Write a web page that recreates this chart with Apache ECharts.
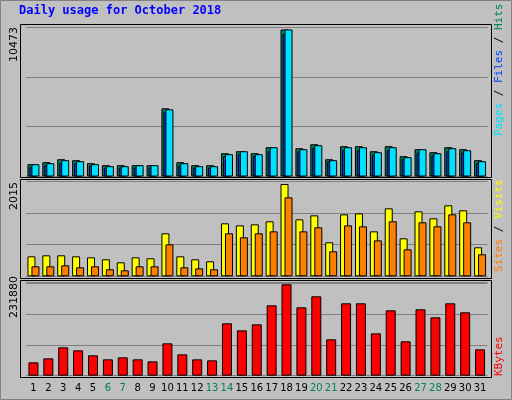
<!DOCTYPE html><html><head><meta charset="utf-8">
<script src="https://cdn.jsdelivr.net/npm/echarts@6/dist/echarts.min.js"></script>
<style>body{margin:0;background:#c0c0c0}#c{width:512px;height:400px}</style></head><body><div id="c"></div>
<script>
const days = ['1','2','3','4','5','6','7','8','9','10','11','12','13','14','15','16','17','18','19','20','21','22','23','24','25','26','27','28','29','30','31'];
const weekend = ['6','7','13','14','20','21','27','28'];
const hits = [877,1019,1232,1161,948,806,806,806,806,4858,1019,806,806,1659,1801,1659,2086,10473,2014,2299,1232,2157,2157,1801,2157,1446,1943,1730,2086,1943,1161];
const files = [660,800,960,950,760,640,640,640,640,4620,800,640,640,1450,1600,1450,1800,10130,1800,2050,1080,1880,1880,1560,1880,1250,1700,1500,1800,1700,950];
const pages = [877,948,1161,1090,877,735,735,806,806,4787,948,735,735,1588,1801,1588,2086,10473,1943,2228,1161,2086,2086,1730,2086,1375,1943,1659,2014,1872,1090];
const visits = [436,458,458,436,414,371,305,414,393,938,436,371,327,1156,1112,1134,1200,2015,1243,1330,742,1352,1374,981,1483,829,1418,1265,1549,1440,633];
const sites = [218,218,240,196,218,153,131,218,218,698,196,174,153,938,851,938,981,1723,981,1069,545,1112,1091,785,1200,589,1178,1091,1352,1178,480];
const kbytes = [33852,44008,71936,64319,51624,41469,46547,41469,36391,82091,54163,41469,38930,132870,115097,130330,178570,231880,173492,201419,92247,183647,183647,107480,165875,87169,168414,148103,183647,160797,66858];
const maxLabels = ['10473','2015','231880'];

const ch = echarts.init(document.getElementById('c'));
const grids = [{top:27,height:149.5},{top:181,height:95.3},{top:282,height:93.7}];
const ymax=[10651,2080,237700], yint=[3550,690,78000];
const bs = {borderColor:'#000',borderWidth:1};
const mono = '11px "DejaVu Sans Mono"';
ch.setOption({
 animation:false, backgroundColor:'#c0c0c0',
 grid: grids.map(g=>({left:26,width:461.5,top:g.top,height:g.height})),
 xAxis:[0,1,2].map(i=>({type:'category',gridIndex:i,data:days,axisLine:{show:false},axisTick:{show:false},
   axisLabel:{show:i===2,interval:0,margin:8,fontSize:10,fontFamily:'DejaVu Sans',color:v=>weekend.includes(v)?'#00805c':'#000'}})),
 yAxis:[0,1,2].map(i=>({type:'value',gridIndex:i,min:0,max:ymax[i],interval:yint[i],axisLabel:{show:false},axisLine:{show:false},axisTick:{show:false},splitLine:{lineStyle:{color:'#808080',width:1}}})),
 graphic:[
  {type:'rect',z:-10,shape:{x:0.5,y:0.5,width:511,height:399},style:{fill:'#c0c0c0',stroke:'#808080',lineWidth:1}},
  {type:'rect',z:-9,shape:{x:20.5,y:24.5,width:471,height:153},style:{fill:'#c0c0c0',stroke:'#000',lineWidth:1}},
  {type:'rect',z:-9,shape:{x:20.5,y:179.5,width:471,height:99},style:{fill:'#c0c0c0',stroke:'#000',lineWidth:1}},
  {type:'rect',z:-9,shape:{x:20.5,y:280.5,width:471,height:97},style:{fill:'#c0c0c0',stroke:'#000',lineWidth:1}},
  {type:'text',left:19,top:5,style:{text:'Daily usage for October 2018',fill:'#0000ff',font:'bold 12px "DejaVu Sans Mono"'}},
  {type:'text',x:9,y:62,rotation:Math.PI/2,style:{text:maxLabels[0],fill:'#000',font:'11px "DejaVu Sans"'}},
  {type:'text',x:9,y:210,rotation:Math.PI/2,style:{text:maxLabels[1],fill:'#000',font:'11px "DejaVu Sans"'}},
  {type:'text',x:9,y:318,rotation:Math.PI/2,style:{text:maxLabels[2],fill:'#000',font:'11px "DejaVu Sans"'}},
  {type:'text',x:494,y:136,rotation:Math.PI/2,style:{text:'{p|Pages}{s| / }{f|Files}{s| / }{h|Hits}',font:mono,rich:{p:{fill:'#00e0ff',font:mono},f:{fill:'#0040ff',font:mono},h:{fill:'#00805c',font:mono},s:{fill:'#000',font:mono}}}},
  {type:'text',x:494,y:272,rotation:Math.PI/2,style:{text:'{a|Sites}{s| / }{b|Visits}',font:mono,rich:{a:{fill:'#ff8000',font:mono},b:{fill:'#ffff00',font:mono},s:{fill:'#000',font:mono}}}},
  {type:'text',x:494,y:376,rotation:Math.PI/2,style:{text:'KBytes',fill:'#ff0000',font:mono}}
 ],
 series:[
  {type:'bar',data:hits,xAxisIndex:0,yAxisIndex:0,barWidth:8,barGap:'-75%',itemStyle:{color:'#00805c',...bs}},
  {type:'bar',data:files,xAxisIndex:0,yAxisIndex:0,barWidth:8,barGap:'-75%',itemStyle:{color:'#0040ff',...bs}},
  {type:'bar',data:pages,xAxisIndex:0,yAxisIndex:0,barWidth:8,barGap:'-75%',itemStyle:{color:'#00e0ff',...bs}},
  {type:'bar',data:visits,xAxisIndex:1,yAxisIndex:1,barWidth:8,barGap:'-50%',itemStyle:{color:'#ffff00',...bs}},
  {type:'bar',data:sites,xAxisIndex:1,yAxisIndex:1,barWidth:8,barGap:'-50%',itemStyle:{color:'#ff8000',...bs}},
  {type:'bar',data:kbytes,xAxisIndex:2,yAxisIndex:2,barWidth:10,itemStyle:{color:'#ff0000',...bs}}
 ]
});
</script></body></html>
